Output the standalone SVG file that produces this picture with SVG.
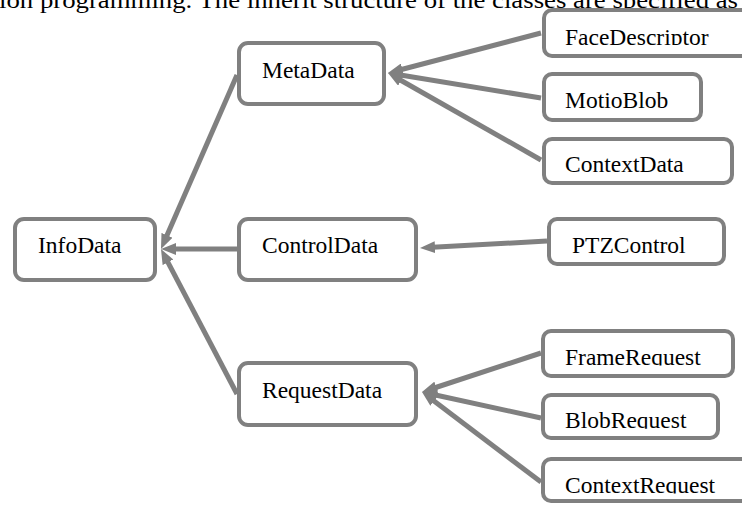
<svg xmlns="http://www.w3.org/2000/svg" width="742" height="507" viewBox="0 0 742 507">
<style>
.box{fill:#fff;stroke:#808080;stroke-width:4}
.lbl{font-family:"Liberation Serif","Times New Roman",serif;font-size:23.5px;fill:#000}
.edge{stroke:#808080;stroke-width:5;fill:none;marker-end:url(#arr)}
.top{font-family:"Liberation Serif","Times New Roman",serif;font-size:24px;fill:#000}
</style>
<defs>
<marker id="arr" viewBox="0 0 15 12" refX="7" refY="6" markerWidth="15" markerHeight="12" markerUnits="userSpaceOnUse" orient="auto">
<path d="M0,0 L15,6 L0,12 z" fill="#808080"/>
</marker>
<clipPath id="c1"><rect x="540" y="0" width="202" height="45"/></clipPath>
<clipPath id="c2"><rect x="540" y="330" width="202" height="35.5"/></clipPath>
<clipPath id="c3"><rect x="540" y="390" width="202" height="38.7"/></clipPath>
<clipPath id="c4"><rect x="540" y="455" width="202" height="38.5"/></clipPath>
</defs>
<text class="top" x="-1" y="8" textLength="739" lengthAdjust="spacingAndGlyphs">ion programming. The inherit structure of the classes are specified as</text>
<g id="connectors">
<line class="edge" x1="541" y1="33" x2="395.7" y2="71.0"/>
<line class="edge" x1="541" y1="98" x2="395.9" y2="74.3"/>
<line class="edge" x1="541" y1="160" x2="395.0" y2="77.0"/>
<line class="edge" x1="547" y1="241" x2="428.0" y2="247.6"/>
<line class="edge" x1="541" y1="353" x2="429.6" y2="389.5"/>
<line class="edge" x1="541" y1="418" x2="429.8" y2="393.7"/>
<line class="edge" x1="541" y1="482" x2="428.4" y2="396.8"/>
<line class="edge" x1="237" y1="75" x2="164.2" y2="241.7"/>
<line class="edge" x1="237" y1="249" x2="169" y2="249"/>
<line class="edge" x1="237" y1="394" x2="164.7" y2="256.1"/>
</g>
<g id="InfoData"><rect class="box" x="15" y="219" width="140" height="61" rx="9"/><text class="lbl" x="38" y="253">InfoData</text></g>
<g id="MetaData"><rect class="box" x="239" y="43" width="145" height="61" rx="9"/><text class="lbl" x="262" y="78">MetaData</text></g>
<g id="ControlData"><rect class="box" x="239" y="219" width="177" height="61" rx="9"/><text class="lbl" x="262" y="253">ControlData</text></g>
<g id="RequestData"><rect class="box" x="239" y="363" width="177" height="62" rx="9"/><text class="lbl" x="262" y="398">RequestData</text></g>
<g id="PTZControl"><rect class="box" x="549" y="219" width="175" height="45" rx="8"/><text class="lbl" x="572" y="253">PTZControl</text></g>
<g id="FaceDescriptor"><rect class="box" x="544" y="10" width="210" height="46" rx="8"/><text class="lbl" x="565" y="44.5" clip-path="url(#c1)">FaceDescriptor</text></g>
<g id="MotioBlob"><rect class="box" x="544" y="74" width="157" height="46" rx="8"/><text class="lbl" x="565" y="108">MotioBlob</text></g>
<g id="ContextData"><rect class="box" x="544" y="139" width="188" height="44" rx="8"/><text class="lbl" x="565" y="172">ContextData</text></g>
<g id="FrameRequest"><rect class="box" x="543" y="331" width="190" height="45" rx="8"/><text class="lbl" x="565" y="365" clip-path="url(#c2)">FrameRequest</text></g>
<g id="BlobRequest"><rect class="box" x="543" y="395" width="175" height="43" rx="8"/><text class="lbl" x="565" y="428" clip-path="url(#c3)">BlobRequest</text></g>
<g id="ContextRequest"><rect class="box" x="543" y="459" width="210" height="42" rx="8"/><text class="lbl" x="565" y="493" clip-path="url(#c4)">ContextRequest</text></g>
</svg>
